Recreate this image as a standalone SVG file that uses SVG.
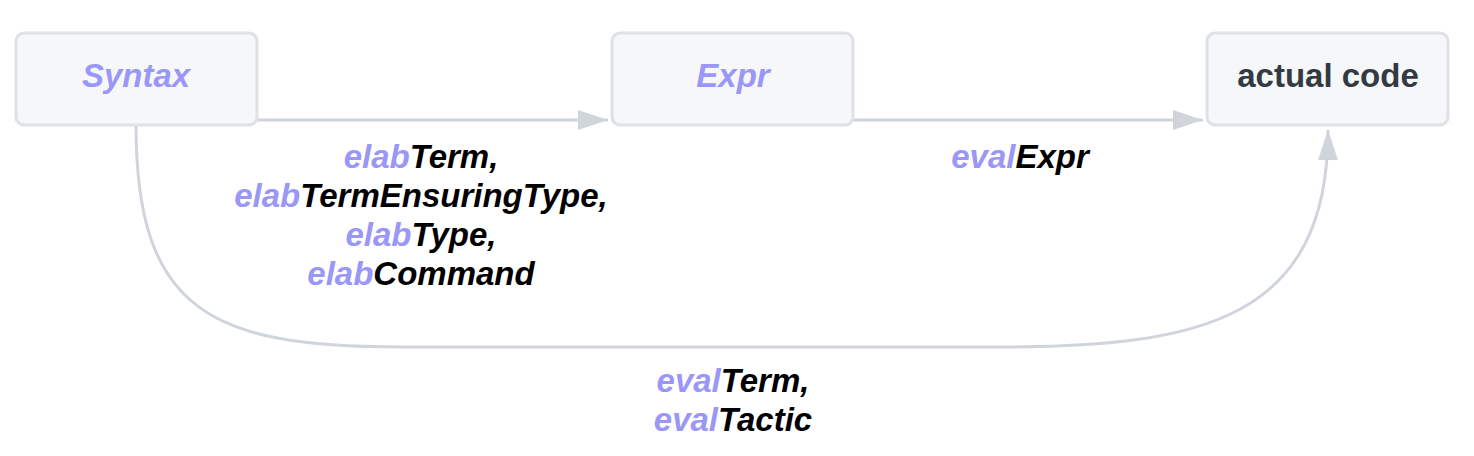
<svg xmlns="http://www.w3.org/2000/svg" width="1474" height="456" viewBox="0 0 1474 456">
<style>
.n{fill:#f6f7f9;stroke:#dfe1e6;stroke-width:3}
.e{fill:none;stroke:#d0d5dc;stroke-width:3}
text{font-family:"Liberation Sans",Arial,sans-serif;font-weight:bold;font-size:33px;text-anchor:middle}
.p{fill:#9a97f7;font-style:italic}
.l{font-style:italic;fill:#000}
.p2{fill:#9a97f7}
</style>
<defs>
<marker id="b" viewBox="0 0 30 20" refX="30" refY="10" markerWidth="30" markerHeight="20" markerUnits="userSpaceOnUse" orient="auto"><path d="M0,0L30,10L0,20z" fill="#d0d5dc"/></marker></defs>
<g id="edges">
<path class="e" d="M257,120H608" marker-end="url(#b)"/>
<path class="e" d="M853,120H1203" marker-end="url(#b)"/>
<path class="e" d="M136,125C136,310 210,347 400,347H1000C1200,347 1328,320 1328,130" marker-end="url(#b)"/>
</g>
<g id="syntax"><rect class="n" x="16" y="33" width="241" height="92" rx="8"/><text class="p" x="136" y="87">Syntax</text></g>
<g id="expr"><rect class="n" x="612" y="33" width="241" height="92" rx="8"/><text class="p" x="733" y="87">Expr</text></g>
<g id="code"><rect class="n" x="1207" y="33" width="241" height="92" rx="8"/><text x="1328" y="87" fill="#333a44">actual code</text></g>
<g id="labels">
<text class="l" x="421" y="168"><tspan class="p2">elab</tspan>Term,</text>
<text class="l" x="421" y="207"><tspan class="p2">elab</tspan>TermEnsuringType,</text>
<text class="l" x="421" y="246"><tspan class="p2">elab</tspan>Type,</text>
<text class="l" x="421" y="285"><tspan class="p2">elab</tspan>Command</text>
<text class="l" x="1020" y="168"><tspan class="p2">eval</tspan>Expr</text>
<text class="l" x="733" y="392"><tspan class="p2">eval</tspan>Term,</text>
<text class="l" x="733" y="431"><tspan class="p2">eval</tspan>Tactic</text>
</g>
</svg>
